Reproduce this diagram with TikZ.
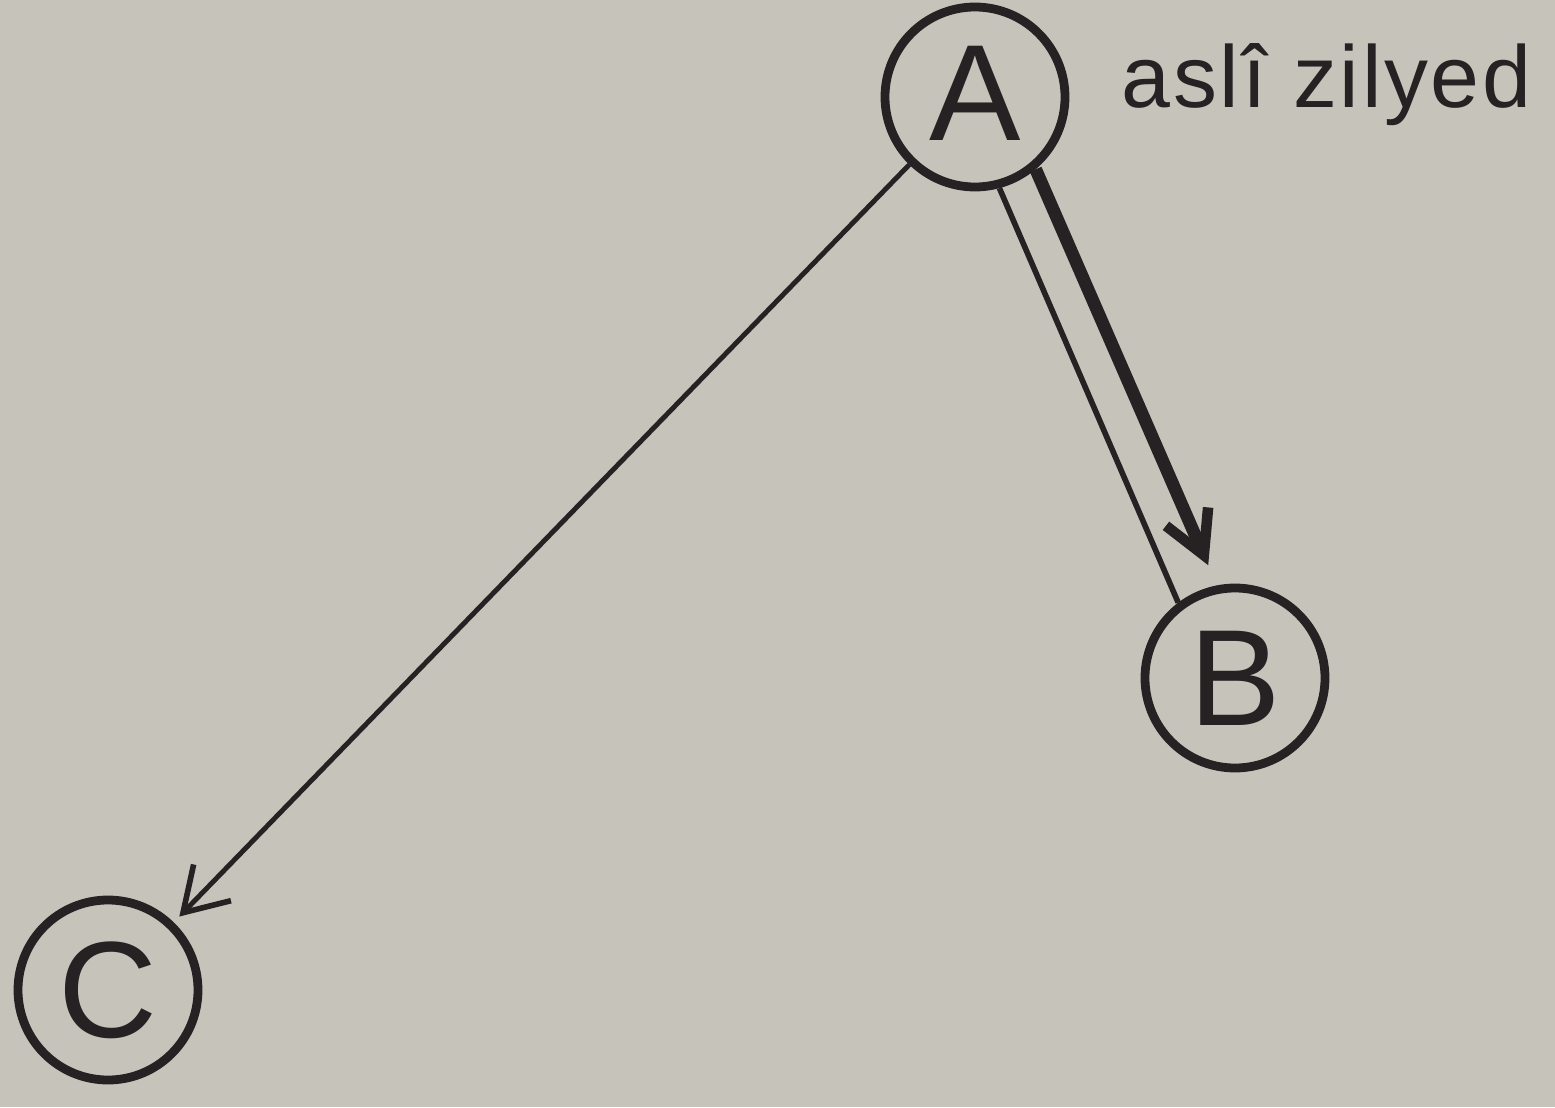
\documentclass[tikz,border=0pt]{standalone}
\usepackage{fontspec}
\setmainfont{Liberation Sans}
\usepackage{xcolor}
\usepackage{tikz}
\usetikzlibrary{arrows.meta, positioning}
\definecolor{paper}{RGB}{198,196,186}
\definecolor{ink}{RGB}{38,33,35}

\begin{document}
\begin{tikzpicture}[
    party/.style={circle, draw=ink, line width=2.5pt, minimum size=1.8cm, inner sep=0pt, text=ink, font=\fontsize{39}{39}\selectfont},
    thinlink/.style={draw=ink, line width=1.6pt},
    thicklink/.style={draw=ink, line width=3.6pt, -{Straight Barb[length=4.2mm, width=4.6mm, line width=3pt]}},
    arrowstyle/.style={draw=ink, line width=1.4pt, -{Straight Barb[length=4.2mm, width=5.2mm, line width=1.6pt]}}
]
\fill[paper] (0,0) rectangle (15.55,11.07);
\useasboundingbox (0,0) rectangle (15.55,11.07);

% Parties
\node[party] (A) at (9.75,10.10) {\raisebox{0.08cm}{A}};
\node[party] (B) at (12.35,4.29) {B};
\node[party] (C) at (1.08,1.17) {C};

% Label
\node[right=0.4cm of A, anchor=west, yshift=0.12cm, text=ink, font=\fontsize{25}{25}\selectfont\addfontfeature{LetterSpace=3}] (lbl) {aslî zilyed};

% Links
\draw[thinlink] (A.-75) -- (B.127);
\draw[thicklink, shorten >=0.22cm] (A.-50) -- (B.101);
\draw[arrowstyle, shorten >=0.08cm] (A) -- (C);
\end{tikzpicture}
\end{document}
